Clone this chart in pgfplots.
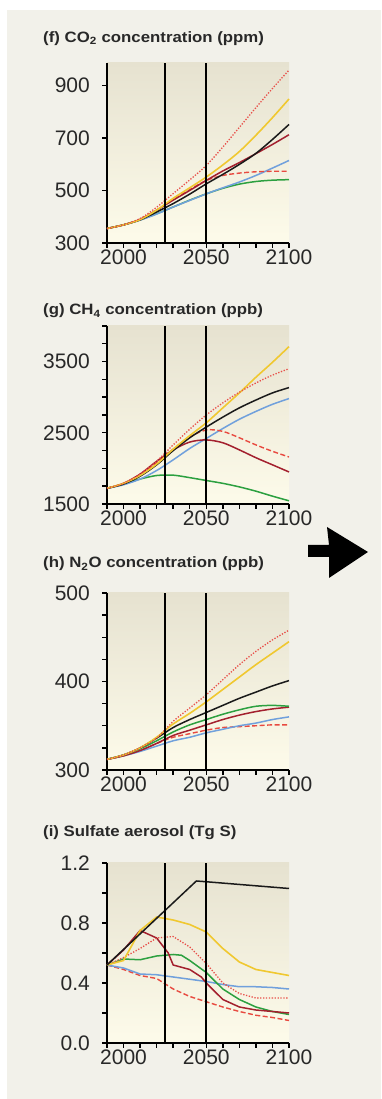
\documentclass[border=0pt]{standalone}
\usepackage{pgfplots}
\pgfplotsset{compat=1.18}
\usepackage{fontspec}
\setmainfont{Liberation Sans}
\usepackage{graphicx}

\definecolor{panelbg}{RGB}{242,241,234}
\definecolor{bgtop}{RGB}{230,226,208}
\definecolor{bgbot}{RGB}{253,251,234}
\definecolor{txt}{RGB}{40,40,40}
\definecolor{cRedDot}{RGB}{232,80,74}
\definecolor{cYellow}{RGB}{240,200,48}
\definecolor{cBlack}{RGB}{26,26,26}
\definecolor{cDarkRed}{RGB}{163,32,46}
\definecolor{cBlue}{RGB}{112,160,220}
\definecolor{cRedDash}{RGB}{232,74,64}
\definecolor{cGreen}{RGB}{44,160,64}

\tikzset{tk/.style={black, line width=1.4pt}}
\pgfplotsset{
  panel/.style={
    scale only axis, width=182pt,
    xmin=1990, xmax=2100,
    clip=false,
    axis x line*=bottom, axis y line*=left,
    axis line style={line width=1.8pt, black},
    axis background/.style={top color=bgtop, bottom color=bgbot},
    major tick length=0pt, minor tick length=0pt,
    xtick={2000,2050,2100},
    xticklabel style={font=\fontsize{21}{21}\selectfont, text=txt, inner sep=0pt, yshift=-7pt},
    yticklabel style={font=\fontsize{21}{21}\selectfont, text=txt, inner sep=0pt, xshift=-17pt},
    /pgf/number format/assume math mode=true,
    /pgf/number format/1000 sep={},
    anchor=south west,
  },
  sdot/.style={color=cRedDot, line width=1.3pt, dash pattern=on 1.3pt off 1.6pt},
  syel/.style={color=cYellow, line width=1.6pt},
  sblk/.style={color=cBlack, line width=1.5pt},
  sdred/.style={color=cDarkRed, line width=1.5pt},
  sblu/.style={color=cBlue, line width=1.5pt},
  sdash/.style={color=cRedDash, line width=1.4pt, dash pattern=on 5pt off 2.5pt},
  sgrn/.style={color=cGreen, line width=1.5pt},
  vl/.style={black, line width=1.8pt},
}
\newcommand{\ttl}[1]{\scalebox{1.12}[1]{\fontsize{15}{15}\selectfont\bfseries\color{txt}#1}}
\newcommand{\xticks}{\pgfplotsinvokeforeach{1990,2000,...,2100}{\draw[tk] ({rel axis cs:0,0}-|{axis cs:##1,0}) -- ++(0pt,-5pt);}}
\newcommand{\yticks}[1]{\pgfplotsinvokeforeach{#1}{\draw[tk] ({rel axis cs:0,0}|-{axis cs:2000,##1}) -- ++(-5pt,0pt);}}

\begin{document}
\begin{tikzpicture}
\path[use as bounding box] (0pt,0pt) rectangle (381pt,1099pt);
\fill[white] (0pt,0pt) rectangle (381pt,1099pt);
\fill[panelbg] (7pt,0pt) rectangle (381pt,1089pt);

% ---------- (f) CO2 ----------
\node[anchor=base west, inner sep=0pt] at (43pt,1056.5pt) {\ttl{(f) CO\textsubscript{2} concentration (ppm)}};
\begin{axis}[panel, at={(107pt,856pt)}, height=180pt,
  ymin=300, ymax=985, ytick={300,500,700,900}]
\addplot[sgrn, smooth] coordinates {(1990,355)(2000,369)(2010,388)(2020,411)(2030,437)(2040,463)(2050,487)(2060,508)(2070,524)(2080,534)(2090,539)(2100,541)};
\addplot[sblu, smooth] coordinates {(1990,355)(2000,369)(2010,387)(2020,410)(2030,437)(2040,462)(2050,487)(2060,510)(2070,532)(2080,557)(2090,585)(2100,614)};
\addplot[sdash, smooth] coordinates {(1990,355)(2000,369)(2010,390)(2020,425)(2030,465)(2040,503)(2050,538)(2060,557)(2070,566)(2080,571)(2090,573)(2100,573)};
\addplot[sdred, smooth] coordinates {(1990,355)(2000,369)(2010,390)(2020,425)(2030,463)(2040,500)(2050,538)(2060,574)(2070,606)(2080,640)(2090,675)(2100,712)};
\addplot[sblk, smooth] coordinates {(1990,355)(2000,369)(2010,388)(2020,418)(2030,450)(2040,486)(2050,525)(2060,561)(2070,599)(2080,641)(2090,694)(2100,751)};
\addplot[syel, smooth] coordinates {(1990,355)(2000,369)(2010,389)(2020,425)(2030,470)(2040,510)(2050,551)(2060,597)(2070,648)(2080,710)(2090,777)(2100,848)};
\addplot[sdot, smooth] coordinates {(1990,355)(2000,369)(2010,393)(2020,436)(2030,488)(2040,540)(2050,595)(2060,665)(2070,740)(2080,815)(2090,888)(2100,958)};
\addplot[vl] coordinates {(2025,300)(2025,985)};
\addplot[vl] coordinates {(2050,300)(2050,985)};
\xticks
\yticks{300,500,700,900}
\end{axis}

% ---------- (g) CH4 ----------
\node[anchor=base west, inner sep=0pt] at (43pt,784pt) {\ttl{(g) CH\textsubscript{4} concentration (ppb)}};
\begin{axis}[panel, at={(107pt,595pt)}, height=178pt,
  ymin=1500, ymax=4000, ytick={1500,2500,3500}]
\addplot[sgrn, smooth] coordinates {(1990,1720)(2000,1780)(2010,1850)(2020,1900)(2030,1905)(2040,1870)(2050,1830)(2060,1790)(2070,1740)(2080,1680)(2090,1610)(2100,1545)};
\addplot[sblu, smooth] coordinates {(1990,1720)(2000,1770)(2010,1850)(2020,1970)(2030,2120)(2040,2280)(2050,2420)(2060,2560)(2070,2690)(2080,2800)(2090,2900)(2100,2980)};
\addplot[sdash, smooth] coordinates {(1990,1720)(2000,1790)(2010,1910)(2020,2080)(2030,2270)(2040,2440)(2050,2540)(2060,2520)(2070,2430)(2080,2330)(2090,2240)(2100,2160)};
\addplot[sdred, smooth] coordinates {(1990,1720)(2000,1790)(2010,1920)(2020,2100)(2030,2260)(2040,2370)(2050,2400)(2060,2360)(2070,2260)(2080,2150)(2090,2050)(2100,1950)};
\addplot[sblk, smooth] coordinates {(1990,1720)(2000,1780)(2010,1890)(2020,2050)(2030,2250)(2040,2430)(2050,2580)(2060,2720)(2070,2850)(2080,2960)(2090,3060)(2100,3135)};
\addplot[syel, smooth] coordinates {(1990,1720)(2000,1790)(2010,1900)(2020,2060)(2030,2270)(2040,2460)(2050,2640)(2060,2850)(2070,3060)(2080,3280)(2090,3490)(2100,3710)};
\addplot[sdot, smooth] coordinates {(1990,1720)(2000,1790)(2010,1920)(2020,2100)(2030,2330)(2040,2550)(2050,2750)(2060,2920)(2070,3070)(2080,3200)(2090,3310)(2100,3400)};
\addplot[vl] coordinates {(2025,1500)(2025,4000)};
\addplot[vl] coordinates {(2050,1500)(2050,4000)};
\xticks
\yticks{1500,1750,...,4000}
\end{axis}

% ---------- (h) N2O ----------
\node[anchor=base west, inner sep=0pt] at (43pt,531pt) {\ttl{(h) N\textsubscript{2}O concentration (ppb)}};
\begin{axis}[panel, at={(107pt,329pt)}, height=177pt,
  ymin=300, ymax=500, ytick={300,400,500}]
\addplot[sdash, smooth] coordinates {(1990,312)(2000,316)(2010,322)(2020,330)(2030,337)(2040,341)(2050,345)(2060,348)(2070,349)(2080,350)(2090,351)(2100,351)};
\addplot[sblu, smooth] coordinates {(1990,312)(2000,316)(2010,321)(2020,327)(2030,333)(2040,337)(2050,342)(2060,346)(2070,350)(2080,353)(2090,357)(2100,360)};
\addplot[sdred, smooth] coordinates {(1990,312)(2000,316)(2010,322)(2020,330)(2030,339)(2040,345)(2050,351)(2060,357)(2070,362)(2080,366)(2090,369)(2100,371)};
\addplot[sgrn, smooth] coordinates {(1990,312)(2000,317)(2010,324)(2020,333)(2030,343)(2040,351)(2050,357)(2060,363)(2070,368)(2080,372)(2090,373)(2100,372)};
\addplot[sblk, smooth] coordinates {(1990,312)(2000,317)(2010,325)(2020,336)(2030,348)(2040,357)(2050,365)(2060,373)(2070,381)(2080,388)(2090,395)(2100,401)};
\addplot[syel, smooth] coordinates {(1990,312)(2000,317)(2010,325)(2020,337)(2030,352)(2040,364)(2050,377)(2060,391)(2070,405)(2080,419)(2090,432)(2100,445)};
\addplot[sdot, smooth] coordinates {(1990,312)(2000,317)(2010,325)(2020,336)(2030,355)(2040,370)(2050,385)(2060,402)(2070,419)(2080,434)(2090,447)(2100,458)};
\addplot[vl] coordinates {(2025,300)(2025,500)};
\addplot[vl] coordinates {(2050,300)(2050,500)};
\xticks
\yticks{300,325,...,500}
\end{axis}

% ---------- (i) Sulfate ----------
\node[anchor=base west, inner sep=0pt] at (43pt,262pt) {\ttl{(i) Sulfate aerosol (Tg S)}};
\begin{axis}[panel, at={(107pt,56pt)}, height=180pt,
  ymin=0, ymax=1.2, ytick={0,0.4,0.8,1.2}, yticklabels={0.0,0.4,0.8,1.2}]
\addplot[sdash] coordinates {(1990,0.52)(2000,0.49)(2010,0.45)(2020,0.43)(2030,0.36)(2040,0.31)(2050,0.275)(2060,0.24)(2070,0.21)(2080,0.185)(2090,0.17)(2100,0.15)};
\addplot[sblu] coordinates {(1990,0.52)(2000,0.50)(2010,0.46)(2020,0.455)(2030,0.44)(2040,0.425)(2050,0.41)(2060,0.39)(2070,0.375)(2080,0.375)(2090,0.37)(2100,0.36)};
\addplot[sgrn] coordinates {(1990,0.52)(2000,0.56)(2010,0.555)(2020,0.58)(2030,0.59)(2035,0.585)(2040,0.55)(2050,0.47)(2060,0.36)(2070,0.29)(2080,0.24)(2090,0.21)(2100,0.19)};
\addplot[sdred] coordinates {(1990,0.52)(2000,0.62)(2010,0.75)(2020,0.70)(2027,0.60)(2030,0.52)(2040,0.49)(2047,0.44)(2050,0.40)(2060,0.29)(2070,0.24)(2080,0.22)(2090,0.21)(2100,0.20)};
\addplot[sdot] coordinates {(1990,0.52)(2000,0.57)(2010,0.63)(2020,0.70)(2030,0.71)(2040,0.64)(2050,0.53)(2060,0.40)(2070,0.33)(2080,0.30)(2090,0.30)(2100,0.30)};
\addplot[syel] coordinates {(1990,0.52)(2000,0.55)(2010,0.75)(2020,0.84)(2030,0.82)(2040,0.79)(2050,0.74)(2060,0.63)(2070,0.54)(2080,0.49)(2090,0.47)(2100,0.45)};
\addplot[sblk] coordinates {(1990,0.52)(2044,1.08)(2050,1.075)(2100,1.03)};
\addplot[vl] coordinates {(2025,0)(2025,1.2)};
\addplot[vl] coordinates {(2050,0)(2050,1.2)};
\xticks
\yticks{0,0.2,...,1.2}
\end{axis}

% arrow
\fill[black] (308pt,554pt) -- (329pt,554pt) -- (327pt,572pt) -- (368pt,547pt) -- (329pt,521pt) -- (329pt,542pt) -- (308pt,542pt) -- cycle;
\end{tikzpicture}
\end{document}
